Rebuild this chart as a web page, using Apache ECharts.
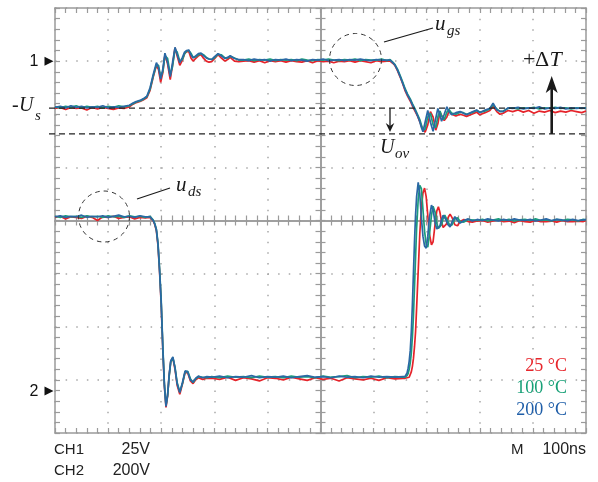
<!DOCTYPE html>
<html><head><meta charset="utf-8">
<script src="https://cdn.jsdelivr.net/npm/echarts@6/dist/echarts.min.js"></script>
<style>html,body{margin:0;padding:0;background:#fff}#c{width:598px;height:482px}</style>
</head><body><div id="c"></div>
<script>
// ---------- DATA (time in ns, voltage in screen divisions, 0 = bottom of screen) ----------
const tempNames = ['25 °C', '100 °C', '200 °C'];
const tempColors = ['#e5232a', '#1c9c7c', '#2a68a4'];
const legendColors = ['#e8262c', '#17a077', '#1f5ea8'];

// gate-source voltage u_gs (channel 1)
const tUgs = [0,10,20,30,40,50,60,70,80,90,100,110,120,130,140,
  147,153,160,166,173,179,185,191,195,199,203,207,212,217,221,226,230,235,240,244,248,252,256,260,265,270,275,280,285,290,295,300,307,313,320,325,330,338,346,
  355,365,375,385,395,405,415,425,435,445,455,465,475,485,495,505,515,525,535,545,555,565,575,585,595,605,615,625,
  631,636,640,645,650,655,659,664,669,673,678,683,687,690,693,697,702,707,712,717,721,725,728,733,738,742,747,755,763,769,775,785,794,800,810,819,825,832,838,844,853,
  862,872,882,892,902,912,922,932,942,952,962,972,982,992,1000];
const ugs25 = [6.11,6.13,6.09,6.13,6.11,6.12,6.08,6.13,6.1,6.13,6.11,6.09,6.12,6.11,6.14,
  6.19,6.22,6.24,6.27,6.31,6.45,6.7,6.92,6.84,6.6,6.78,7.12,6.95,6.65,6.9,7.25,7.1,6.92,7.02,7.14,7.18,7.18,7.06,7.0,7.05,7.1,7.12,7.05,7.0,6.98,6.99,7.04,7.12,7.06,7.0,7.03,7.07,7.0,6.99,
  7.0,7.01,6.98,7.01,6.97,7.01,6.99,7.01,6.98,7.01,6.99,6.98,7.01,6.97,7.01,6.99,7.0,6.97,7.0,6.99,7.01,6.98,7.01,6.99,6.97,7.01,6.99,7.0,
  7.0,6.96,6.92,6.82,6.7,6.57,6.45,6.34,6.25,6.16,6.06,5.96,5.86,5.78,5.72,5.66,5.8,6.05,5.95,5.7,5.82,6.04,6.02,5.88,5.95,6.06,6.0,5.97,6.0,5.98,5.96,6.0,6.04,5.99,6.03,6.07,6.15,6.05,6.0,6.02,6.07,
  6.05,6.08,6.04,6.07,6.02,6.06,6.04,6.07,6.03,6.06,6.04,6.07,6.05,6.03,6.06];
const ugs100 = [6.14,6.12,6.15,6.13,6.16,6.12,6.15,6.13,6.15,6.12,6.15,6.13,6.16,6.14,6.16,
  6.2,6.23,6.25,6.28,6.33,6.47,6.72,6.93,6.92,6.7,6.8,7.1,7.05,6.75,6.88,7.22,7.17,7.0,7.03,7.14,7.19,7.2,7.15,7.07,7.08,7.12,7.14,7.12,7.07,7.04,7.03,7.06,7.13,7.12,7.06,7.06,7.09,7.06,7.02,
  7.02,7.04,7.01,7.03,7.02,7.04,7.01,7.03,7.02,7.03,7.01,7.04,7.02,7.01,7.03,7.02,7.04,7.02,7.01,7.03,7.02,7.04,7.01,7.03,7.02,7.02,7.04,7.01,
  7.03,6.98,6.94,6.85,6.73,6.6,6.49,6.38,6.29,6.2,6.1,5.99,5.9,5.8,5.7,5.72,5.95,6.02,5.8,5.75,5.95,6.06,5.97,5.9,6.04,6.09,6.02,6.0,6.04,6.03,6.0,6.03,6.07,6.04,6.06,6.1,6.18,6.1,6.05,6.06,6.11,
  6.12,6.1,6.12,6.11,6.13,6.1,6.12,6.11,6.13,6.11,6.12,6.1,6.12,6.11,6.12];
const ugs200 = [6.13,6.15,6.12,6.16,6.13,6.15,6.12,6.14,6.13,6.16,6.12,6.14,6.13,6.15,6.17,
  6.21,6.24,6.26,6.29,6.34,6.5,6.75,6.97,6.88,6.66,6.85,7.15,6.98,6.71,6.95,7.26,7.13,6.97,7.07,7.17,7.2,7.21,7.12,7.06,7.1,7.14,7.15,7.1,7.06,7.04,7.03,7.08,7.14,7.1,7.05,7.07,7.1,7.05,7.03,
  7.03,7.01,7.04,7.02,7.03,7.0,7.03,7.02,7.04,7.01,7.03,7.02,7.0,7.03,7.02,7.04,7.01,7.02,7.03,7.01,7.03,7.02,7.04,7.02,7.01,7.03,7.02,7.02,
  7.02,6.97,6.93,6.83,6.71,6.58,6.47,6.36,6.27,6.18,6.08,5.97,5.86,5.75,5.67,5.85,6.07,5.85,5.68,5.92,6.11,5.98,5.87,6.0,6.14,6.05,5.99,6.03,6.05,6.02,5.99,6.04,6.08,6.03,6.08,6.11,6.21,6.08,6.06,6.05,6.12,
  6.11,6.13,6.1,6.12,6.11,6.14,6.1,6.12,6.11,6.13,6.1,6.12,6.11,6.12,6.11];

// drain-source voltage u_ds (channel 2)
const tUds = [0,10,20,30,40,50,60,70,80,90,100,110,120,130,140,150,160,170,
  179,182,185,188,191,194,197,200,203,206,209,212,215,218,222,226,230,235,240,245,250,255,260,265,270,278,286,
  295,310,325,340,355,370,385,400,415,430,445,460,475,490,505,520,535,550,565,580,595,610,625,640,655,
  659,661,663,665,667,669,671,673,675,677,679,681,684,687,690,693,696,699,702,705,709,712,716,719,722,725,728,731,734,737,740,744,748,753,758,763,770,778,786,
  795,805,815,825,835,845,855,865,875,885,895,905,915,925,935,945,955,965,975,985,995,1000];
const uds25 = [4.06,4.08,4.03,4.07,4.06,4.04,4.08,4.06,4.0,4.07,4.06,4.08,4.04,4.06,4.07,4.03,4.06,4.05,
  4.06,4.04,3.99,3.92,3.8,3.52,3.02,2.42,1.58,0.88,0.48,0.69,1.08,1.35,1.41,1.2,0.9,0.73,0.92,1.14,1.13,0.98,0.93,1.0,1.04,1.01,1.03,
  1.03,1.01,1.05,0.99,1.04,1.02,0.98,1.04,1.03,1.0,1.05,1.02,0.99,1.04,1.01,1.03,0.98,1.04,1.02,1.0,1.03,0.99,1.04,1.02,1.03,
  1.03,1.02,1.04,1.03,1.05,1.08,1.15,1.25,1.4,1.62,1.9,2.35,3.05,3.75,4.25,4.52,4.61,4.45,4.1,3.75,3.54,3.6,3.95,4.18,4.26,4.15,3.98,3.87,3.85,3.93,4.05,4.12,4.05,3.92,3.9,3.98,4.02,3.98,3.97,
  3.99,4.0,3.97,3.99,4.01,3.98,3.99,3.96,4.0,3.98,3.97,4.0,3.98,3.98,3.99,3.97,4.0,3.98,3.98,3.99,3.98,4.0];
const uds100 = [4.08,4.06,4.09,4.07,4.08,4.06,4.09,4.07,4.08,4.06,4.09,4.07,4.08,4.06,4.09,4.07,4.08,4.06,
  4.08,4.05,4.01,3.94,3.83,3.57,3.08,2.5,1.65,0.93,0.52,0.7,1.07,1.34,1.42,1.24,0.95,0.77,0.93,1.15,1.16,1.02,0.95,1.02,1.06,1.05,1.04,
  1.06,1.04,1.07,1.05,1.06,1.04,1.07,1.05,1.06,1.04,1.07,1.05,1.06,1.04,1.07,1.05,1.06,1.08,1.04,1.06,1.05,1.07,1.04,1.06,1.05,
  1.05,1.06,1.08,1.12,1.2,1.32,1.5,1.8,2.2,2.75,3.3,3.85,4.4,4.66,4.6,4.2,3.8,3.55,3.5,3.72,4.1,4.27,4.15,3.95,3.85,3.84,3.92,4.04,4.1,4.07,3.98,3.9,3.92,4.03,4.05,3.98,3.97,4.02,4.01,
  4.0,4.02,3.99,4.01,4.03,4.0,4.02,3.99,4.01,4.02,4.0,4.03,4.0,4.01,3.99,4.02,4.0,4.02,4.01,3.99,4.02,4.01];
const uds200 = [4.07,4.09,4.06,4.08,4.07,4.1,4.06,4.08,4.07,4.09,4.06,4.08,4.1,4.07,4.08,4.06,4.09,4.07,
  4.07,4.05,4.0,3.93,3.82,3.55,3.05,2.45,1.6,0.9,0.5,0.72,1.1,1.36,1.43,1.22,0.93,0.76,0.95,1.17,1.15,1.0,0.96,1.03,1.07,1.04,1.06,
  1.05,1.07,1.04,1.06,1.05,1.08,1.04,1.06,1.05,1.07,1.04,1.06,1.08,1.05,1.06,1.04,1.07,1.05,1.06,1.04,1.07,1.05,1.06,1.05,1.06,
  1.06,1.08,1.13,1.22,1.35,1.55,1.9,2.4,3.0,3.6,4.1,4.45,4.72,4.5,4.05,3.7,3.52,3.48,3.7,4.05,4.29,4.2,3.95,3.84,3.82,3.9,4.02,4.1,4.1,4.0,3.92,3.88,3.98,4.07,4.0,3.95,4.0,4.03,3.99,
  4.02,4.0,4.03,4.01,3.99,4.02,4.0,4.03,4.01,4.0,4.02,3.99,4.01,4.03,4.0,4.02,4.01,3.99,4.02,4.0,4.01,4.02];

// reference levels (divisions)
const levelUs = 6.115;     // -U_s
const levelUov = 5.63;     // U_ov (overshoot)
const ch1Marker = 7.0;     // channel 1 marker
const ch2Marker = 0.79;    // channel 2 marker
const scaleText = { ch1: '25V', ch2: '200V', time: '100ns' };

// ---------- CHART ----------
const chart = echarts.init(document.getElementById('c'), null, { renderer: 'canvas' });
const G = { left: 55, top: 8, width: 531, height: 425 };
const axisColor = '#9a9a9a';
const tickStyle = { color: axisColor, width: 1.2 };
function xAx(pos, offset, inside, split) {
  return {
    type: 'value', min: 0, max: 1000, interval: 100, position: pos, offset: offset,
    axisLabel: { show: false },
    axisLine: { show: true, onZero: false, lineStyle: { color: axisColor, width: 1.5 } },
    axisTick: { show: true, inside: inside, length: 5, lineStyle: tickStyle },
    minorTick: { show: true, splitNumber: 5, length: 5, lineStyle: tickStyle },
    splitLine: split ? { show: true, lineStyle: { color: '#a8a8a8', width: 1.5, type: [1.5, 9.125] } } : { show: false }
  };
}
function yAx(pos, offset, inside, split) {
  return {
    type: 'value', min: 0, max: 8, interval: 1, position: pos, offset: offset,
    axisLabel: { show: false },
    axisLine: { show: true, onZero: false, lineStyle: { color: axisColor, width: 1.5 } },
    axisTick: { show: true, inside: inside, length: 5, lineStyle: tickStyle },
    minorTick: { show: true, splitNumber: 5, length: 5, lineStyle: tickStyle },
    splitLine: split ? { show: true, lineStyle: { color: '#a8a8a8', width: 1.5, type: [1.5, 9.125] } } : { show: false }
  };
}
const zip = (t, v) => t.map((x, i) => [x, v[i]]);
const ugsSets = [ugs25, ugs100, ugs200];
const udsSets = [uds25, uds100, uds200];
const series = [];
for (let k = 0; k < 3; k++) {
  [[tUgs, ugsSets[k]], [tUds, udsSets[k]]].forEach(([t, v]) => {
    series.push({
      type: 'line', name: tempNames[k], data: zip(t, v), showSymbol: false, symbol: 'none',
      lineStyle: { color: tempColors[k], width: 1.7 }, itemStyle: { color: tempColors[k] },
      z: 3 + k, animation: false
    });
  });
}
chart.setOption({
  animation: false,
  grid: G,
  xAxis: [xAx('bottom', 0, true, true), xAx('top', 0, true, false),
          xAx('bottom', -G.height / 2, true, false), xAx('bottom', -G.height / 2, false, false)],
  yAxis: [yAx('left', 0, true, true), yAx('right', 0, true, false),
          yAx('left', -G.width / 2, true, false), yAx('left', -G.width / 2, false, false)],
  series: series
});

// ---------- ANNOTATIONS ----------
const px = (t, v) => chart.convertToPixel({ gridIndex: 0 }, [t, v]);
const yUs = px(0, levelUs)[1], yUov = px(0, levelUov)[1];
const y1 = px(0, ch1Marker)[1], y2 = px(0, ch2Marker)[1];
const xRight = G.left + G.width;
const serif = '"Liberation Serif","Times New Roman",serif';
const sans = '"Liberation Sans",Arial,Helvetica,sans-serif';
const ink = '#1a1a1a';
// y = text baseline; converted to a 'middle' anchor
function txt(x, base, s, size, opts) {
  return { type: 'text', x: x, y: base - 0.34 * size, silent: true, z: 20,
    style: Object.assign({ text: s, fontSize: size, fontFamily: serif, fill: ink, verticalAlign: 'middle' }, opts || {}) };
}
const it = { fontStyle: 'italic' };
const g = [];
// dashed reference levels
[yUs, yUov].forEach(y => g.push({ type: 'line', z: 10, shape: { x1: 49, y1: y, x2: xRight, y2: y },
  style: { stroke: '#222', lineWidth: 1.3, lineDash: [6, 4] } }));
// channel markers
[[y1, '1'], [y2, '2']].forEach(([y, s]) => {
  g.push({ type: 'text', x: 38.5, y: y + 0.5, z: 20, style: { text: s, fontSize: 16, fontFamily: sans, fill: '#111', align: 'right', verticalAlign: 'middle' } });
  g.push({ type: 'polygon', z: 20, shape: { points: [[44.5, y - 4.5], [53.5, y], [44.5, y + 4.5]] }, style: { fill: '#111' } });
});
// -U_s
g.push(txt(12, 113, '-', 20));
g.push(txt(19, 113, 'U', 20, it));
g.push(txt(35, 121, 's', 15, it));
// U_ov
g.push(txt(380, 155, 'U', 20, it));
g.push(txt(395, 159.5, 'ov', 15, it));
// u_gs
g.push(txt(435, 31.5, 'u', 21, it));
g.push(txt(447, 36, 'gs', 15, it));
// u_ds
g.push(txt(176, 193, 'u', 21, it));
g.push(txt(188, 197.5, 'ds', 15, it));
// +ΔT
g.push(txt(523, 67.5, '+', 22));
g.push(txt(535, 67.5, 'Δ', 22));
g.push(txt(549.5, 67.5, 'T', 22, it));
// leader lines and dashed circles
g.push({ type: 'line', z: 10, shape: { x1: 384, y1: 42, x2: 433, y2: 28 }, style: { stroke: ink, lineWidth: 1.3 } });
g.push({ type: 'line', z: 10, shape: { x1: 137, y1: 199, x2: 170, y2: 188 }, style: { stroke: ink, lineWidth: 1.3 } });
g.push({ type: 'circle', z: 10, shape: { cx: 355.5, cy: 59.5, r: 26 }, style: { fill: null, stroke: '#333', lineWidth: 1, lineDash: [4.5, 4] } });
g.push({ type: 'circle', z: 10, shape: { cx: 104, cy: 216.5, r: 25.5 }, style: { fill: null, stroke: '#333', lineWidth: 1, lineDash: [4.5, 4] } });
// small down arrow (U_ov)
g.push({ type: 'line', z: 10, shape: { x1: 390, y1: yUs, x2: 390, y2: yUov - 6 }, style: { stroke: ink, lineWidth: 1.3 } });
g.push({ type: 'polygon', z: 10, shape: { points: [[390, yUov - 2], [394.3, yUov - 11], [390, yUov - 8], [385.7, yUov - 11]] }, style: { fill: ink } });
// big up arrow (+ΔT)
g.push({ type: 'line', z: 10, shape: { x1: 551.7, y1: yUov, x2: 551.7, y2: 86 }, style: { stroke: ink, lineWidth: 2.6 } });
g.push({ type: 'polygon', z: 10, shape: { points: [[551.7, 76], [557.7, 93], [551.7, 88.5], [545.7, 93]] }, style: { fill: ink } });
// legend of temperatures
tempNames.forEach((n, k) => g.push(txt(567, 372 + 22 * k, n, 18, { fill: legendColors[k], align: 'right' })));
// scope scale readouts
g.push(txt(54, 455, 'CH1', 15, { fontFamily: sans, fill: '#222' }));
g.push(txt(150, 455, scaleText.ch1, 16, { fontFamily: sans, fill: '#222', align: 'right' }));
g.push(txt(54, 476, 'CH2', 15, { fontFamily: sans, fill: '#222' }));
g.push(txt(150, 476, scaleText.ch2, 16, { fontFamily: sans, fill: '#222', align: 'right' }));
g.push(txt(511, 455, 'M', 15, { fontFamily: sans, fill: '#222' }));
g.push(txt(586, 455, scaleText.time, 16, { fontFamily: sans, fill: '#222', align: 'right' }));
chart.setOption({ graphic: g });
</script></body></html>
